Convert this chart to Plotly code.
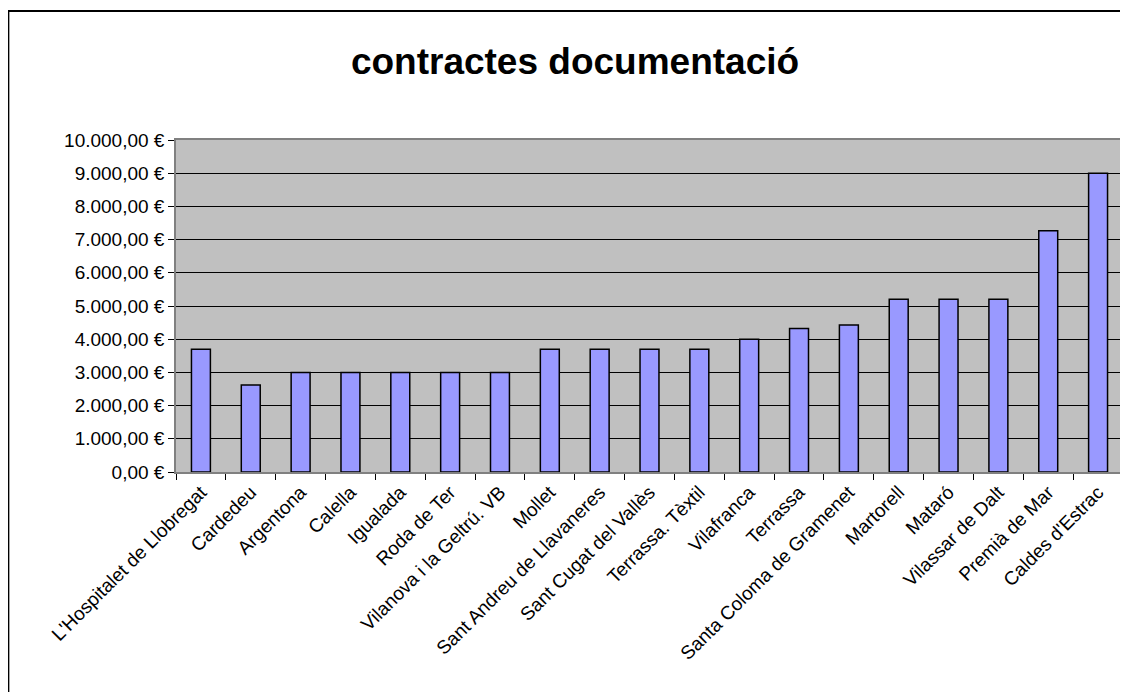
import plotly.graph_objects as go

categories = [
    "L'Hospitalet de Llobregat", "Cardedeu", "Argentona", "Calella", "Igualada",
    "Roda de Ter", "Vilanova i la Geltrú. VB", "Mollet", "Sant Andreu de Llavaneres",
    "Sant Cugat del Vallès", "Terrassa. Tèxtil", "Vilafranca", "Terrassa",
    "Santa Coloma de Gramenet", "Martorell", "Mataró", "Vilassar de Dalt",
    "Premià de Mar", "Caldes d'Estrac",
]
values = [3700, 2620, 3000, 3000, 3000, 3000, 3000, 3700, 3700, 3700, 3700,
          4000, 4320, 4430, 5200, 5200, 5200, 7270, 9000]

title_text = "contractes documentació"

# page offset from default body margin
OFF = 8
W, H = 1120, 684
L, R, T, B = 176 - OFF, 3, 140 - OFF, 220
pw, ph = W - L - R, H - T - B

FONT = "Arial, Liberation Sans, sans-serif"

fig = go.Figure(
    go.Bar(
        x=categories,
        y=values,
        marker=dict(color="#9999FF", line=dict(color="#000000", width=1.5)),
    )
)

def px_to_paper_x(px):
    return (px - OFF - L) / pw

def py_to_paper_y(py):
    return (H - B - (py - OFF)) / ph

fig.add_shape(
    type="rect", xref="paper", yref="paper",
    x0=px_to_paper_x(8), x1=px_to_paper_x(1150),
    y0=py_to_paper_y(710), y1=py_to_paper_y(11),
    line=dict(color="#000000", width=2), fillcolor="rgba(0,0,0,0)", layer="below",
)

fig.update_layout(
    width=W, height=H,
    margin=dict(l=L, r=R, t=T, b=B, pad=0),
    paper_bgcolor="white",
    plot_bgcolor="#C0C0C0",
    separators=",.",
    showlegend=False,
    bargap=0.62,
    font=dict(family=FONT, size=19, color="#000000"),
    title=dict(
        text="<b>" + title_text + "</b>",
        x=(575 - OFF) / W, xref="container", xanchor="center",
        y=1 - (61 - OFF) / H, yref="container", yanchor="middle",
        font=dict(family=FONT, size=37, color="#000000"),
    ),
)

fig.update_xaxes(
    type="category",
    tickson="boundaries",
    ticks="outside", ticklen=6, tickcolor="#000000", tickwidth=1,
    tickangle=-45,
    showline=True, linecolor="#808080", linewidth=1.5, mirror=True,
    showgrid=False,
    tickfont=dict(family=FONT, size=19, color="#000000"),
)

fig.update_yaxes(
    range=[0, 10000], dtick=1000,
    tickformat=",.2f", ticksuffix=" €",
    ticks="outside", ticklen=6, tickcolor="#000000", tickwidth=1,
    showline=True, linecolor="#808080", linewidth=1.5, mirror=True,
    showgrid=True, gridcolor="#000000", gridwidth=1,
    zeroline=False,
    tickfont=dict(family=FONT, size=19, color="#000000"),
)

fig.write_html("out.html")
